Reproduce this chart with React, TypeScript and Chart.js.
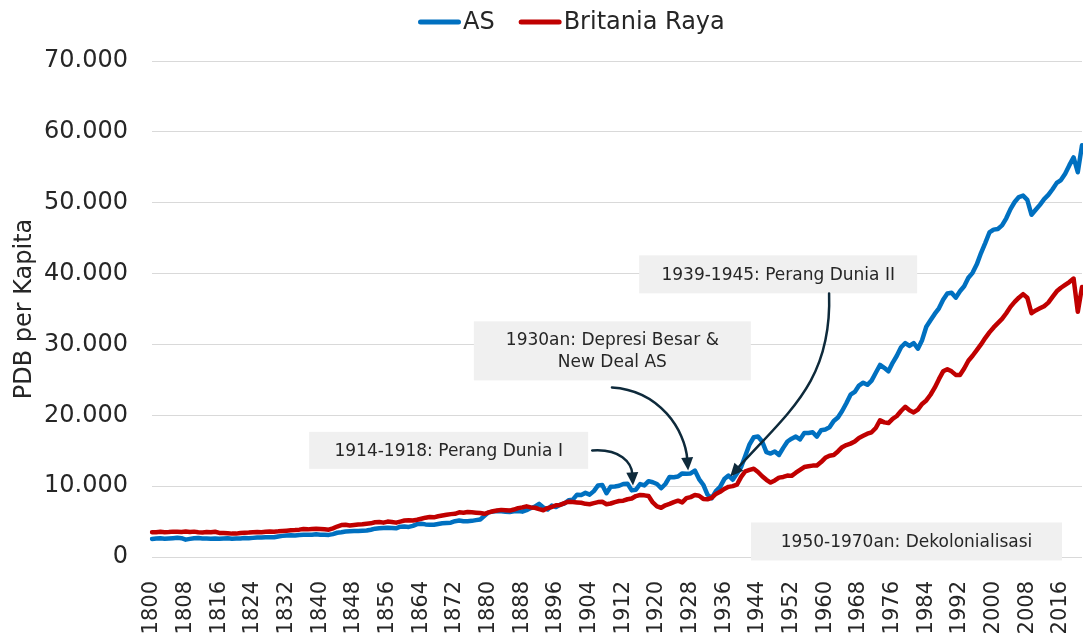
import { useEffect, useRef } from "react";
import { Chart, registerables } from "chart.js";

Chart.register(...registerables);

const FONT = "'DejaVu Sans', 'Noto Sans', sans-serif";
const TEXT_COLOR = "#262626";

const firstYear = 1800;
const lastYear = 2021;
const years: string[] = Array.from({ length: lastYear - firstYear + 1 }, (_, i) => String(firstYear + i));

const seriesNames = ["AS", "Britania Raya"];
const seriesColors = ["#0070C0", "#C00000"];

// PDB per kapita, AS (1800-2021)
const usGdp = [
  2550, 2600, 2630, 2580, 2620, 2660, 2700, 2660, 2450, 2560,
  2640, 2680, 2620, 2600, 2580, 2620, 2560, 2600, 2640, 2580,
  2600, 2620, 2680, 2650, 2700, 2760, 2750, 2780, 2800, 2780,
  2900, 2980, 3040, 3060, 3020, 3100, 3150, 3130, 3150, 3220,
  3150, 3130, 3120, 3230, 3420, 3500, 3600, 3650, 3680, 3660,
  3700, 3740, 3850, 4000, 4050, 4100, 4120, 4100, 4050, 4280,
  4300, 4250, 4400, 4650, 4700, 4600, 4550, 4550, 4650, 4750,
  4800, 4850, 5050, 5150, 5050, 5050, 5100, 5200, 5300, 5800,
  6300, 6400, 6500, 6450, 6400, 6350, 6450, 6500, 6400, 6600,
  6900, 7100, 7500, 7000, 6700, 7250, 7050, 7400, 7550, 8000,
  8100, 8800, 8750, 9050, 8800, 9300, 10100, 10150, 9000, 9900,
  9950, 10050, 10300, 10350, 9400, 9500, 10300, 10100, 10700, 10550,
  10300, 9700, 10300, 11300, 11250, 11350, 11800, 11750, 11800, 12200,
  11000, 10200, 8800, 8300, 9300, 9900, 11000, 11500, 10900, 11800,
  12700, 14300, 15900, 16900, 17000, 16300, 14800, 14600, 14900, 14400,
  15400, 16300, 16700, 17000, 16600, 17500, 17500, 17600, 17000, 17900,
  18000, 18300, 19200, 19700, 20600, 21700, 22900, 23300, 24200, 24600,
  24300, 24900, 26000, 27100, 26700, 26200, 27400, 28400, 29600, 30200,
  29800, 30200, 29400, 30600, 32500, 33400, 34300, 35100, 36300, 37200,
  37300, 36600, 37500, 38200, 39400, 40100, 41300, 42900, 44300, 45800,
  46200, 46300, 46800, 47800, 49100, 50100, 50800, 51000, 50400, 48300,
  49000, 49700, 50500, 51100, 51900, 52800, 53200, 54100, 55300, 56400,
  54300, 58100,
];

// PDB per kapita, Britania Raya (1800-2021)
const ukGdp = [
  3500, 3480, 3550, 3500, 3520, 3580, 3560, 3540, 3600, 3520,
  3580, 3500, 3450, 3520, 3480, 3560, 3400, 3380, 3350, 3300,
  3300, 3380, 3420, 3450, 3500, 3520, 3480, 3560, 3600, 3580,
  3620, 3680, 3720, 3760, 3800, 3860, 3950, 3900, 3960, 4000,
  3950, 3900, 3850, 4050, 4300, 4500, 4550, 4450, 4520, 4600,
  4620, 4700, 4750, 4900, 4950, 4850, 5000, 4950, 4850, 5000,
  5150, 5200, 5150, 5250, 5400, 5550, 5650, 5600, 5750, 5850,
  5950, 6050, 6100, 6300, 6250, 6350, 6300, 6250, 6200, 6100,
  6300, 6450, 6550, 6650, 6600, 6550, 6700, 6900, 7000, 7150,
  7000, 6950, 6750, 6600, 6900, 7050, 7300, 7350, 7600, 7800,
  7750, 7700, 7650, 7500, 7450, 7600, 7750, 7800, 7450, 7550,
  7750, 7900, 7950, 8150, 8250, 8600, 8750, 8700, 8600, 7700,
  7150, 6950, 7300, 7500, 7750, 7950, 7700, 8300, 8450, 8750,
  8650, 8200, 8150, 8350, 8900, 9200, 9600, 9900, 10000, 10200,
  11300, 12100, 12300, 12450, 12000, 11400, 10900, 10500, 10800, 11200,
  11300, 11500, 11450, 11900, 12300, 12700, 12800, 12900, 12900, 13400,
  14000, 14300, 14400, 14900, 15500, 15800, 16000, 16300, 16800, 17100,
  17400, 17600, 18200, 19300, 19000, 18900, 19500, 19900, 20600, 21200,
  20700, 20400, 20800, 21600, 22100, 22900, 23900, 25100, 26200, 26500,
  26200, 25700, 25700, 26600, 27700, 28400, 29200, 30000, 30900, 31700,
  32400, 33000, 33600, 34400, 35300, 36000, 36600, 37100, 36600, 34400,
  34800, 35100, 35400, 35900, 36700, 37500, 38000, 38400, 38800, 39300,
  34600, 38100,
];

const yMin = 0;
const yMax = 70000;
const yStep = 10000;
const xLabelEvery = 8;

// Annotation boxes, anchored in data units (year, value)
const annotationTexts = [
  ["1914-1918: Perang Dunia I"],
  ["1930an: Depresi Besar &", "New Deal AS"],
  ["1939-1945: Perang Dunia II"],
  ["1950-1970an: Dekolonialisasi"],
];
const annotationAnchors = [
  [1870.5, 15050],
  [1909.4, 29090],
  [1948.8, 39890],
  [1979.3, 2190],
];
const annotationSizes = [
  [279, 37],
  [277, 59],
  [278, 38],
  [311, 38],
];

// Arrows: start, control 1, control 2, tip (year, value)
const arrowPaths = [
  [[1904.6, 15040], [1911.2, 15320], [1914.0, 13340], [1914.3, 10100]],
  [[1909.3, 23930], [1920.7, 23510], [1926.7, 17860], [1927.4, 12210]],
  [[1960.9, 37200], [1961.6, 24920], [1951.6, 20690], [1937.4, 11370]],
];

const formatThousands = (v: number) => String(Math.round(v)).replace(/\B(?=(\d{3})+(?!\d))/g, ".");

const annotationPlugin = {
  id: "historyAnnotations",
  afterDatasetsDraw(chart: any) {
    const { ctx, scales } = chart;
    const xs = scales.x;
    const ys = scales.y;
    const px = (yr: number) => xs.getPixelForValue(yr - firstYear);
    const py = (v: number) => ys.getPixelForValue(v);
    ctx.save();
    annotationTexts.forEach((lines, i) => {
      const cx = px(annotationAnchors[i][0]);
      const cy = py(annotationAnchors[i][1]);
      const [w, h] = annotationSizes[i];
      ctx.fillStyle = "#F0F0F0";
      ctx.fillRect(cx - w / 2, cy - h / 2, w, h);
      ctx.fillStyle = TEXT_COLOR;
      ctx.font = `17px ${FONT}`;
      ctx.textAlign = "center";
      ctx.textBaseline = "middle";
      const lh = 22;
      lines.forEach((t, j) => {
        ctx.fillText(t, cx, cy + (j - (lines.length - 1) / 2) * lh + 1);
      });
    });
    ctx.strokeStyle = "#0E2A3B";
    ctx.fillStyle = "#0E2A3B";
    ctx.lineWidth = 2.5;
    ctx.lineCap = "round";
    arrowPaths.forEach((path) => {
      const pts = path.map(([yr, v]) => [px(yr), py(v)]);
      const [p0, c1, c2, p3] = pts;
      const ang = Math.atan2(p3[1] - c2[1], p3[0] - c2[0]);
      const L = 13;
      const W = 6;
      const bx = p3[0] - Math.cos(ang) * (L - 2);
      const by = p3[1] - Math.sin(ang) * (L - 2);
      ctx.beginPath();
      ctx.moveTo(p0[0], p0[1]);
      ctx.bezierCurveTo(c1[0], c1[1], c2[0], c2[1], bx, by);
      ctx.stroke();
      ctx.beginPath();
      ctx.moveTo(p3[0], p3[1]);
      ctx.lineTo(p3[0] - Math.cos(ang) * L - Math.sin(ang) * W, p3[1] - Math.sin(ang) * L + Math.cos(ang) * W);
      ctx.lineTo(p3[0] - Math.cos(ang) * L + Math.sin(ang) * W, p3[1] - Math.sin(ang) * L - Math.cos(ang) * W);
      ctx.closePath();
      ctx.fill();
    });
    ctx.restore();
  },
};

const legendPlugin = {
  id: "lineLegend",
  afterDraw(chart: any) {
    const { ctx } = chart;
    ctx.save();
    ctx.font = `24px ${FONT}`;
    ctx.textBaseline = "middle";
    ctx.textAlign = "left";
    const yc = 22;
    let xPos = 418;
    chart.data.datasets.forEach((ds: any) => {
      ctx.strokeStyle = ds.borderColor;
      ctx.lineWidth = 5;
      ctx.lineCap = "round";
      ctx.beginPath();
      ctx.moveTo(xPos + 2.5, yc);
      ctx.lineTo(xPos + 40.5, yc);
      ctx.stroke();
      ctx.fillStyle = TEXT_COLOR;
      ctx.fillText(ds.label, xPos + 45, yc + 1);
      xPos += 45 + ctx.measureText(ds.label).width + 24;
    });
    ctx.restore();
  },
};

export default function App() {
  const canvasRef = useRef<HTMLCanvasElement | null>(null);

  useEffect(() => {
    document.body.style.margin = "0";
    const canvas = canvasRef.current;
    if (!canvas) return;
    const chart = new Chart(canvas, {
      type: "line",
      data: {
        labels: years,
        datasets: [
          {
            label: seriesNames[0],
            data: usGdp,
            borderColor: seriesColors[0],
            backgroundColor: seriesColors[0],
            borderWidth: 4.5,
            pointRadius: 0,
            borderJoinStyle: "round",
            borderCapStyle: "round",
            order: 2,
          },
          {
            label: seriesNames[1],
            data: ukGdp,
            borderColor: seriesColors[1],
            backgroundColor: seriesColors[1],
            borderWidth: 4.5,
            pointRadius: 0,
            borderJoinStyle: "round",
            borderCapStyle: "round",
            order: 1,
          },
        ],
      },
      options: {
        animation: false,
        responsive: false,
        events: [],
        layout: { padding: { top: 61, right: 1, left: 0, bottom: 0 } },
        plugins: {
          legend: { display: false },
          tooltip: { enabled: false },
        },
        scales: {
          x: {
            grid: { display: false },
            border: { display: false },
            ticks: {
              autoSkip: false,
              maxRotation: 90,
              minRotation: 90,
              padding: 16,
              color: TEXT_COLOR,
              font: { family: FONT, size: 21 },
              callback: (_v: any, i: number) => (i % xLabelEvery === 0 ? years[i] : ""),
            },
            afterFit: (s: any) => {
              s.height = 78;
              s.paddingLeft = 0;
              s.paddingRight = 0;
            },
          },
          y: {
            min: yMin,
            max: yMax,
            grid: { color: "#D9D9D9", lineWidth: 1, drawTicks: false },
            border: { display: false },
            ticks: {
              stepSize: yStep,
              padding: 24,
              color: TEXT_COLOR,
              font: { family: FONT, size: 24 },
              callback: (v: any) => formatThousands(Number(v)),
            },
            title: {
              display: true,
              text: "PDB per Kapita",
              color: TEXT_COLOR,
              font: { family: FONT, size: 24 },
              padding: { top: 10, bottom: 0 },
            },
            afterFit: (s: any) => {
              s.width = 152;
            },
          },
        },
      },
      plugins: [annotationPlugin, legendPlugin],
    });
    return () => chart.destroy();
  }, []);

  return (
    <div style={{ width: 1083, height: 635 }}>
      <canvas ref={canvasRef} width={1083} height={635} style={{ display: "block" }} />
    </div>
  );
}
